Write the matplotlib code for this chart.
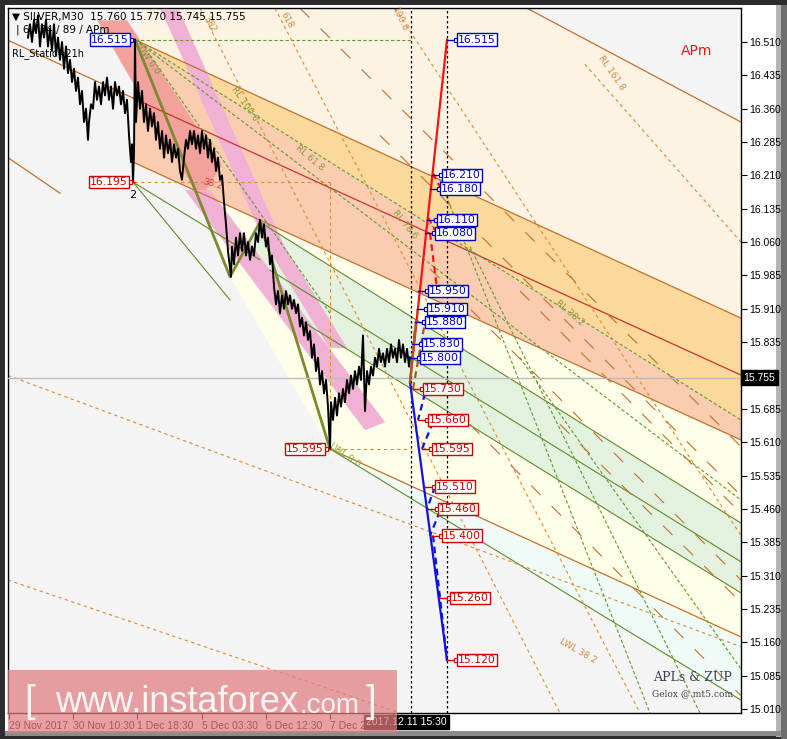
import numpy as np
import matplotlib.pyplot as plt
from matplotlib.patches import Polygon, Rectangle
from matplotlib.transforms import blended_transform_factory

# ---- price series (x = M30 bar index, one bar per pixel column) ----
bar_idx = [28, 30, 32, 34, 36, 38, 40, 42, 44, 46,
           48, 50, 52, 54, 56, 58, 60, 62, 64, 66,
           68, 70, 72, 74, 76, 78, 80, 82, 84, 86,
           88, 89, 91, 93, 95, 97, 99, 101, 103, 105,
           107, 109, 111, 113, 115, 117, 119, 121, 123, 125,
           127, 129, 131, 132, 133, 134, 135, 136, 138, 140,
           142, 144, 146, 148, 150, 152, 154, 156, 158, 160,
           162, 164, 166, 168, 170, 172, 174, 176, 178, 180,
           182, 184, 186, 188, 190, 192, 194, 196, 198, 200,
           202, 204, 206, 208, 210, 212, 214, 216, 218, 220,
           222, 224, 226, 228, 230, 231, 232, 234, 236, 238,
           240, 242, 244, 246, 248, 250, 252, 254, 256, 258,
           260, 262, 264, 266, 268, 270, 272, 274, 276, 278,
           280, 282, 284, 286, 288, 290, 292, 294, 296, 298,
           300, 302, 304, 306, 308, 310, 312, 314, 316, 318,
           320, 322, 324, 326, 328, 330, 331, 333, 335, 337,
           339, 341, 343, 345, 347, 349, 351, 353, 355, 357,
           359, 361, 363, 365, 367, 369, 371, 373, 375, 377,
           379, 381, 383, 385, 387, 389, 391, 393, 395, 397,
           399, 401, 403, 405, 407, 409, 410]
close = [16.52, 16.55, 16.51, 16.56, 16.53, 16.57, 16.50, 16.55, 16.52, 16.56,
         16.50, 16.54, 16.49, 16.55, 16.48, 16.52, 16.47, 16.51, 16.45, 16.50,
         16.44, 16.47, 16.42, 16.45, 16.40, 16.43, 16.37, 16.40, 16.33, 16.36,
         16.29, 16.33, 16.37, 16.36, 16.42, 16.38, 16.41, 16.37, 16.42, 16.39,
         16.43, 16.38, 16.41, 16.36, 16.42, 16.39, 16.41, 16.37, 16.40, 16.35,
         16.38, 16.30, 16.24, 16.28, 16.195, 16.26, 16.515, 16.33, 16.42, 16.36,
         16.40, 16.33, 16.37, 16.31, 16.36, 16.32, 16.35, 16.29, 16.33, 16.27,
         16.31, 16.25, 16.30, 16.26, 16.29, 16.24, 16.28, 16.25, 16.27, 16.22,
         16.20, 16.25, 16.29, 16.27, 16.31, 16.28, 16.31, 16.27, 16.30, 16.26,
         16.31, 16.27, 16.30, 16.25, 16.29, 16.24, 16.27, 16.22, 16.25, 16.20,
         16.21, 16.15, 16.10, 16.04, 16.00, 15.982, 16.05, 16.01, 16.07, 16.03,
         16.08, 16.04, 16.08, 16.03, 16.06, 16.02, 16.05, 16.03, 16.08, 16.06,
         16.11, 16.07, 16.10, 16.05, 16.07, 16.01, 16.03, 15.96, 15.92, 15.95,
         15.90, 15.94, 15.91, 15.95, 15.92, 15.94, 15.91, 15.93, 15.90, 15.92,
         15.87, 15.89, 15.85, 15.88, 15.84, 15.86, 15.80, 15.83, 15.77, 15.80,
         15.74, 15.77, 15.72, 15.75, 15.69, 15.595, 15.70, 15.66, 15.71, 15.67,
         15.72, 15.69, 15.73, 15.70, 15.75, 15.72, 15.76, 15.73, 15.77, 15.74,
         15.78, 15.75, 15.85, 15.68, 15.77, 15.74, 15.78, 15.76, 15.80, 15.78,
         15.82, 15.79, 15.81, 15.78, 15.82, 15.79, 15.83, 15.80, 15.82, 15.79,
         15.84, 15.80, 15.83, 15.79, 15.82, 15.78, 15.80]
last_price = 15.755

# ---- axes ----
price_ticks = [15.010, 15.085, 15.160, 15.235, 15.310, 15.385, 15.460, 15.535,
               15.610, 15.685, 15.760, 15.835, 15.910, 15.985, 16.060, 16.135,
               16.210, 16.285, 16.360, 16.435, 16.510]
time_ticks = [9, 73, 137, 202, 266, 330, 393]
time_labels = ["29 Nov 2017", "30 Nov 10:30", "1 Dec 18:30", "5 Dec 03:30",
               "6 Dec 12:30", "7 Dec 21:30", ""]
cursor_bar = 447
cursor_label = "2017.12.11 15:30"
x_range = (8, 741)
p_range = (15.001, 16.5865)

# ---- ZUP / APL channel fills (bar, price) ----
cream_poly = [(145, 16.586), (527, 16.586), (741, 16.330), (741, 15.889), (135, 16.515)]
orange_poly = [(135, 16.515), (741, 15.889), (741, 15.660)]
salmon_poly = [(135, 16.515), (741, 15.660), (741, 15.615), (133, 16.240)]
yellow_poly = [(205, 16.166), (741, 15.615), (741, 15.165), (330, 15.595), (230, 15.982)]
green_poly = [(260, 16.105), (741, 15.428), (741, 15.271), (300, 15.885), (245, 16.042)]
cyan_poly = [(330, 15.595), (741, 15.165), (741, 15.030)]
red_band = [(97, 16.559), (127, 16.559), (222, 16.233), (200, 16.155)]
pink_a = [(185, 16.177), (210, 16.177), (385, 15.655), (365, 15.637)]
pink_b = [(161, 16.582), (179, 16.582), (237, 16.290), (284, 16.053), (347, 15.822),
          (329, 15.822), (266, 16.053), (219, 16.290)]

# ---- lines (bar0, price0, bar1, price1) ----
brown_solid = [(527, 16.586, 741, 16.330), (135, 16.515, 741, 15.889),
               (133, 16.240, 741, 15.615), (330, 15.595, 741, 15.172),
               (8, 16.514, 133, 16.384), (8, 16.250, 60, 16.170)]
red_solid = [(133, 16.384, 741, 15.761)]
green_solid = [(260, 16.105, 741, 15.428), (270, 15.997, 741, 15.341),
               (300, 15.885, 741, 15.271), (330, 15.595, 741, 15.030),
               (133, 16.195, 260, 16.020), (133, 16.195, 230, 15.930)]
zup_path_x = [135, 230, 260, 330]
zup_path_p = [16.515, 15.982, 16.105, 15.595]
green_dashed = [(135, 16.515, 411, 16.515), (135, 16.515, 741, 15.660),
                (135, 16.515, 741, 15.480), (150, 16.480, 330, 15.900),
                (440, 16.200, 650, 15.001), (470, 16.050, 700, 15.001),
                (520, 15.800, 741, 15.100)]
orange_dashed = [(134, 16.195, 330, 16.195), (330, 16.195, 330, 15.595),
                 (330, 15.595, 411, 15.595), (200, 16.586, 560, 15.001),
                 (275, 16.586, 640, 15.001), (395, 16.586, 741, 15.400),
                 (585, 16.460, 741, 16.060), (8, 15.760, 741, 15.150),
                 (8, 15.300, 400, 15.001)]
longdash_brown = [(300, 16.586, 741, 15.600), (380, 16.300, 741, 15.490),
                  (430, 16.000, 741, 15.300), (470, 15.650, 741, 15.040),
                  (520, 15.950, 741, 15.450), (560, 15.650, 741, 15.250)]

# ---- projection targets ----
proj_up_bar = [447, 432, 430, 427, 425, 418, 417, 415, 412, 410]
proj_up_price = [16.515, 16.210, 16.180, 16.110, 16.080, 15.950, 15.910, 15.880, 15.830, 15.800]
proj_dn_bar = [413, 418, 422, 425, 428, 432, 440, 447]
proj_dn_price = [15.730, 15.660, 15.595, 15.510, 15.460, 15.400, 15.260, 15.120]
start_bar, start_price = 410, 15.745
red_dashed = [(433, 16.215, 442, 16.175), (428, 16.115, 436, 16.083), (430, 16.080, 437, 15.955)]
blue_dashed = [(425, 15.720, 418, 15.660), (433, 15.655, 422, 15.595), (435, 15.510, 427, 15.460),
               (440, 15.455, 430, 15.400), (433, 15.400, 447, 15.120)]
brown_proj = [(410, 15.745, 416, 15.880), (413, 15.730, 425, 15.880), (418, 15.910, 413, 15.830)]
left_labels = [(135, 16.515, 'b'), (134, 16.195, 'r'), (330, 15.595, 'r')]

W, H = 787, 739
fig = plt.figure(figsize=(W / 100, H / 100), dpi=100)
fig.patch.set_facecolor('#2c2c2c')

bg = fig.add_axes([0, 0, 1, 1], zorder=0)
bg.set_xlim(0, W)
bg.set_ylim(H, 0)
bg.axis('off')
bg.add_patch(Rectangle((5, 5), 771, 727, fc='white', ec='none'))
bg.add_patch(Rectangle((776, 5), 5, 732, fc='#b4b4b4', ec='none'))
bg.add_patch(Rectangle((781, 5), 6, 734, fc='#6e6e6e', ec='none'))
bg.add_patch(Rectangle((5, 731), 776, 5, fc='#8c8c8c', ec='none'))

ax = fig.add_axes([8 / W, 1 - 713 / H, 733 / W, 705 / H], zorder=1)
ax.set_facecolor('#f4f4f5')
ax.set_xlim(*x_range)
ax.set_ylim(*p_range)

fills = [(cream_poly, '#fdf3e4'), (orange_poly, '#fbd89b'), (salmon_poly, '#fbcdb0'),
         (yellow_poly, '#fffee9'), (green_poly, '#e3f1df'), (cyan_poly, '#effbf6'),
         (red_band, '#f3a19b'), (pink_a, '#f1b1d4'), (pink_b, '#f1b1d4')]
for poly, col in fills:
    ax.add_patch(Polygon(poly, closed=True, fc=col, ec='none', zorder=1))

for x0, p0, x1, p1 in brown_solid:
    ax.plot([x0, x1], [p0, p1], color='#c2702c', lw=0.9, zorder=2)
for x0, p0, x1, p1 in red_solid:
    ax.plot([x0, x1], [p0, p1], color='#c83232', lw=0.9, zorder=2)
for x0, p0, x1, p1 in green_solid:
    ax.plot([x0, x1], [p0, p1], color='#5f8a2a', lw=0.8, zorder=2)
for x0, p0, x1, p1 in green_dashed:
    ax.plot([x0, x1], [p0, p1], color='#5f9a2a', lw=0.8, ls=(0, (3, 2)), zorder=2)
for x0, p0, x1, p1 in orange_dashed:
    ax.plot([x0, x1], [p0, p1], color='#e08a2a', lw=0.8, ls=(0, (3, 3)), zorder=2)
for x0, p0, x1, p1 in longdash_brown:
    ax.plot([x0, x1], [p0, p1], color='#c2702c', lw=0.8, ls=(0, (12, 14)), zorder=2)
ax.plot(zup_path_x, zup_path_p, color='#7b8a2e', lw=2.0, zorder=3)

ax.axhline(last_price, color='#bcbcbc', lw=1, zorder=3)
for xv in (411, cursor_bar):
    ax.axvline(xv, color='black', lw=0.9, ls=(0, (2, 2)), zorder=4)

ax.plot(bar_idx, close, color='black', lw=1.4, zorder=5)

# projections
ax.plot([start_bar, proj_up_bar[0]], [start_price, proj_up_price[0]], color='#ff1010', lw=1.6, zorder=6)
ax.plot([start_bar, proj_dn_bar[-1]], [start_price, proj_dn_price[-1]], color='#1010e0', lw=1.6, zorder=6)
for x0, p0, x1, p1 in red_dashed:
    ax.plot([x0, x1], [p0, p1], color='#ff1010', lw=1.6, ls=(0, (3, 2)), zorder=6)
for x0, p0, x1, p1 in blue_dashed:
    ax.plot([x0, x1], [p0, p1], color='#1010e0', lw=1.6, ls=(0, (3, 2)), zorder=6)
for x0, p0, x1, p1 in brown_proj:
    ax.plot([x0, x1], [p0, p1], color='#b0561d', lw=1.6, ls='-' if x0 == 410 else (0, (3, 2)), zorder=6)


def tag(x, p, col, side):
    c = '#0000c8' if col == 'b' else '#d00000'
    d = 9 if side == 'r' else -4
    ax.plot([x, x + d], [p, p], color=c, lw=1, zorder=7)
    ax.plot([x + d], [p], marker='s', ms=3, mfc='white', mec=c, mew=0.8, zorder=8)
    ax.text(x + d + (2 if side == 'r' else -2), p, f"{p:.3f}", color=c, fontsize=7.8,
            ha='left' if side == 'r' else 'right', va='center', zorder=9,
            bbox=dict(boxstyle='square,pad=0.12', fc='white', ec=c, lw=1))


for x, p in zip(proj_up_bar, proj_up_price):
    tag(x, p, 'b', 'r')
for x, p in zip(proj_dn_bar, proj_dn_price):
    tag(x, p, 'r', 'r')
for x, p, c in left_labels:
    tag(x, p, c, 'l')
ax.text(133, 16.178, "2", fontsize=8, ha='center', va='top', zorder=9)

# line captions
caps = [(148, 16.47, "UW 0.0", '#6aa02a', -55), (245, 16.37, "RL 100.0", '#8a9a3a', -55),
        (310, 16.25, "RL 61.8", '#8a9a3a', -40), (612, 16.44, "RL 161.8", '#d08a40', -55),
        (210, 16.55, "382", '#d08a40', -60), (287, 16.56, "618", '#d08a40', -60),
        (400, 16.56, "100.0", '#d08a40', -65), (578, 15.14, "LWL 38.2", '#d08a40', -30),
        (345, 15.58, "LWL 0.0", '#8aaa3a', -35), (213, 16.19, "38.2", '#d04040', -15),
        (570, 15.90, "RL 38.2", '#8a9a3a', -40), (405, 16.10, "RL 78.6", '#8a9a3a', -50)]
for x, p, s, c, r in caps:
    ax.text(x, p, s, color=c, fontsize=6.5, rotation=r, ha='center', va='center', zorder=4)

ax.text(12, 16.567, "\u25bc SILVER,M30  15.760 15.770 15.745 15.755", fontsize=7.5, va='center', zorder=9)
ax.text(16, 16.538, "| 6 / 34 / 89 / APm", fontsize=7.5, va='center', zorder=9)
ax.text(12, 16.485, "RL_Static=21h", fontsize=7, va='center', zorder=9)
ax.text(697, 16.49, "APm", color='#e01818', fontsize=10, ha='center', va='center', zorder=9)
ax.text(693, 15.08, "APLs & ZUP", color='#404050', fontsize=9, family='DejaVu Serif', ha='center', va='center', zorder=9)
ax.text(693, 15.045, "Gelox @ mt5.com", color='#404050', fontsize=6.5, family='DejaVu Serif', ha='center', va='center', zorder=9)

# axes styling
for s in ax.spines.values():
    s.set_color('black')
    s.set_linewidth(1)
ax.yaxis.tick_right()
ax.set_yticks(price_ticks)
# the 15.760 level sits under the current-price box
ax.set_yticklabels(["" if abs(v - last_price) < 0.02 else f"{v:.3f}" for v in price_ticks],
                   family='Liberation Sans')
ax.set_xticks(time_ticks)
ax.set_xticklabels(time_labels, family='Liberation Sans')
for lbl in ax.get_xticklabels():
    lbl.set_ha('left')
ax.tick_params(axis='both', length=4, width=0.8, labelsize=7.5, pad=2, colors='black')
ax.text(1.003, last_price, f"{last_price:.3f}", transform=blended_transform_factory(ax.transAxes, ax.transData),
        color='white', fontsize=7.5, family='Liberation Sans', ha='left', va='center', zorder=10, clip_on=False,
        bbox=dict(boxstyle='square,pad=0.25', fc='black', ec='black'))
ax.text(cursor_bar, -0.006, cursor_label, transform=blended_transform_factory(ax.transData, ax.transAxes),
        color='white', fontsize=7.5, family='Liberation Sans', ha='right', va='top', zorder=10, clip_on=False,
        bbox=dict(boxstyle='square,pad=0.2', fc='black', ec='black'))

# watermark
ov = fig.add_axes([0, 0, 1, 1], zorder=5)
ov.set_xlim(0, W)
ov.set_ylim(H, 0)
ov.axis('off')
ov.patch.set_alpha(0)
ov.add_patch(Rectangle((8, 670), 389, 63, fc='#e07c7e', ec='none', alpha=0.72))
ov.text(24, 702, "[", color='white', fontsize=28, family='Liberation Sans', va='center', alpha=0.9)
ov.text(55, 702, "www.instaforex", color='white', fontsize=26, family='Liberation Sans', va='center', alpha=0.9)
ov.text(299, 706, ".com", color='white', fontsize=20, family='Liberation Sans', va='center', alpha=0.9)
ov.text(366, 702, "]", color='white', fontsize=28, family='Liberation Sans', va='center', alpha=0.9)

fig.savefig('out.png', dpi=100, facecolor=fig.get_facecolor())
